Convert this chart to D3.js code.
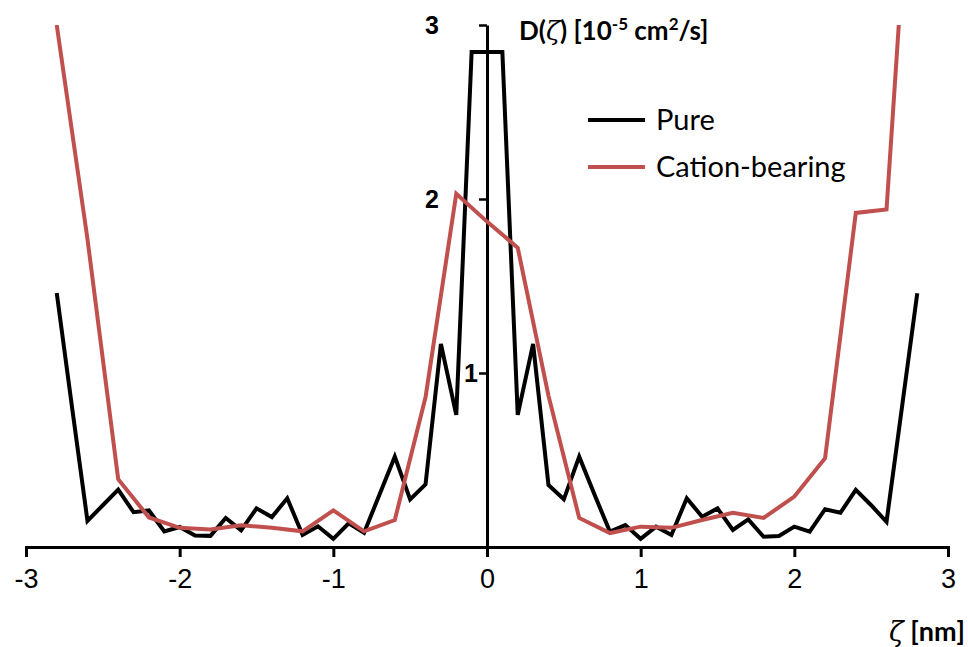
<!DOCTYPE html>
<html>
<head>
<meta charset="utf-8">
<script src="https://cdn.jsdelivr.net/npm/d3@7/dist/d3.min.js"></script>
<style>
  html, body { margin: 0; padding: 0; background: #fff; }
  svg { display: block; font-family: Lato, "Open Sans", sans-serif; }
</style>
</head>
<body>
<svg id="chart" width="968" height="647"></svg>
<script>
// Position across the film, ζ [nm]
const zetaPure = [
  -2.8, -2.7, -2.6, -2.5, -2.4, -2.3, -2.2, -2.1, -2.0, -1.9,
  -1.8, -1.7, -1.6, -1.5, -1.4, -1.3, -1.2, -1.1, -1.0, -0.9,
  -0.8, -0.7, -0.6, -0.5, -0.4, -0.3, -0.2, -0.1, 0.0, 0.1,
  0.2, 0.3, 0.4, 0.5, 0.6, 0.7, 0.8, 0.9, 1.0, 1.1,
  1.2, 1.3, 1.4, 1.5, 1.6, 1.7, 1.8, 1.9, 2.0, 2.1,
  2.2, 2.3, 2.4, 2.5, 2.6, 2.7, 2.8
];
// Diffusion coefficient, pure water [1e-5 cm²/s]
const dPure = [
  1.46, 0.80, 0.15, 0.24, 0.33, 0.20, 0.21, 0.09, 0.115, 0.066,
  0.064, 0.167, 0.096, 0.222, 0.172, 0.28, 0.069, 0.119, 0.047, 0.136,
  0.082, 0.30, 0.519, 0.274, 0.36, 1.167, 0.759, 2.845, 2.845, 2.845,
  0.759, 1.167, 0.356, 0.274, 0.519, 0.30, 0.088, 0.126, 0.047, 0.117,
  0.069, 0.28, 0.174, 0.222, 0.098, 0.159, 0.059, 0.063, 0.117, 0.088,
  0.217, 0.197, 0.328, 0.24, 0.145, 0.80, 1.458
];

const zetaCation = [
  -2.8, -2.6, -2.4, -2.2, -2.0, -1.8, -1.6, -1.4, -1.2, -1.0,
  -0.8, -0.6, -0.4, -0.2, 0.0, 0.2, 0.4, 0.6, 0.8, 1.0,
  1.2, 1.4, 1.6, 1.8, 2.0, 2.2, 2.4, 2.6, 2.8
];
// Diffusion coefficient, cation-bearing water [1e-5 cm²/s]
const dCation = [
  3.0, 1.77, 0.39, 0.17, 0.11, 0.10, 0.125, 0.11, 0.09, 0.21,
  0.09, 0.155, 0.86, 2.03, 1.87, 1.72, 0.87, 0.167, 0.08, 0.117,
  0.11, 0.155, 0.197, 0.167, 0.29, 0.51, 1.92, 1.94, 4.6
];

const xTicks = [-3, -2, -1, 0, 1, 2, 3];
const yTicks = [1, 2, 3];
const seriesNames = ["Pure", "Cation-bearing"];
const seriesColors = ["#000000", "#C0504D"];

const svg = d3.select("#chart");
const x = d3.scaleLinear().domain([-3, 3]).range([26, 948]);
const y = d3.scaleLinear().domain([0, 3]).range([547, 25]);

// clip curves to the plotting window (values above 3 run off the top)
svg.append("defs").append("clipPath").attr("id", "plotClip")
  .append("rect")
  .attr("x", x(-3)).attr("y", y(3))
  .attr("width", x(3) - x(-3)).attr("height", y(0) - y(3));

// x axis along D = 0
const xAxis = svg.append("g")
  .attr("transform", `translate(0,${y(0)})`)
  .call(d3.axisBottom(x).tickValues(xTicks).tickSize(10).tickSizeOuter(10).tickPadding(12)
    .tickFormat(d3.format("d")));
xAxis.select(".domain").attr("stroke", "#000").attr("stroke-width", 3);
xAxis.selectAll(".tick line").attr("stroke", "#000").attr("stroke-width", 3);
xAxis.selectAll(".tick text")
  .attr("font-size", 27).attr("fill", "#000")
  .text(d => d < 0 ? "-" + Math.abs(d) : d);

// y axis through ζ = 0
const yAxis = svg.append("g")
  .attr("transform", `translate(${x(0)},0)`)
  .call(d3.axisLeft(y).tickValues(yTicks).tickSize(8).tickSizeOuter(0).tickFormat(d3.format("d")));
yAxis.select(".domain").attr("stroke", "#000").attr("stroke-width", 3);
yAxis.selectAll(".tick line").attr("stroke", "#000").attr("stroke-width", 2.5);
yAxis.selectAll(".tick text")
  .attr("font-size", 25).attr("font-weight", "bold").attr("fill", "#000")
  .attr("x", d => d === 1 ? -9 : -48);

// curves
const line = d3.line().x(d => x(d[0])).y(d => y(d[1]));
const plot = svg.append("g").attr("clip-path", "url(#plotClip)");
const series = [
  d3.zip(zetaPure, dPure),
  d3.zip(zetaCation, dCation)
];
series.forEach((pts, i) => {
  plot.append("path")
    .datum(pts)
    .attr("fill", "none")
    .attr("stroke", seriesColors[i])
    .attr("stroke-width", 4)
    .attr("stroke-linejoin", "miter")
    .attr("stroke-miterlimit", 3)
    .attr("d", line);
});

// y-axis title
const yTitle = svg.append("text")
  .attr("x", 519).attr("y", 40)
  .attr("font-size", 26).attr("font-weight", "bold").attr("fill", "#000");
yTitle.append("tspan").text("D(");
yTitle.append("tspan").attr("font-weight", "normal").attr("font-family", "'DejaVu Serif', serif").attr("font-style", "italic").text("ζ");
yTitle.append("tspan").text(") [10");
yTitle.append("tspan").attr("font-size", 17).attr("dy", -10).text("-5");
yTitle.append("tspan").attr("dy", 10).text(" cm");
yTitle.append("tspan").attr("font-size", 17).attr("dy", -10).text("2");
yTitle.append("tspan").attr("dy", 10).text("/s]");

// x-axis title
const xTitle = svg.append("text")
  .attr("x", 965).attr("y", 641).attr("text-anchor", "end")
  .attr("font-size", 27).attr("font-weight", "bold").attr("fill", "#000");
xTitle.append("tspan").attr("font-weight", "normal").attr("font-family", "'DejaVu Serif', serif").attr("font-style", "italic").text("ζ");
xTitle.append("tspan").text(" [nm]");

// legend
const legend = svg.append("g");
seriesNames.forEach((name, i) => {
  const ly = 120 + i * 47;
  legend.append("line")
    .attr("x1", 588).attr("x2", 645).attr("y1", ly).attr("y2", ly)
    .attr("stroke", seriesColors[i]).attr("stroke-width", 4);
  legend.append("text")
    .attr("x", 656).attr("y", ly + 10)
    .attr("font-size", 29).attr("fill", "#000")
    .text(name);
});
</script>
</body>
</html>
